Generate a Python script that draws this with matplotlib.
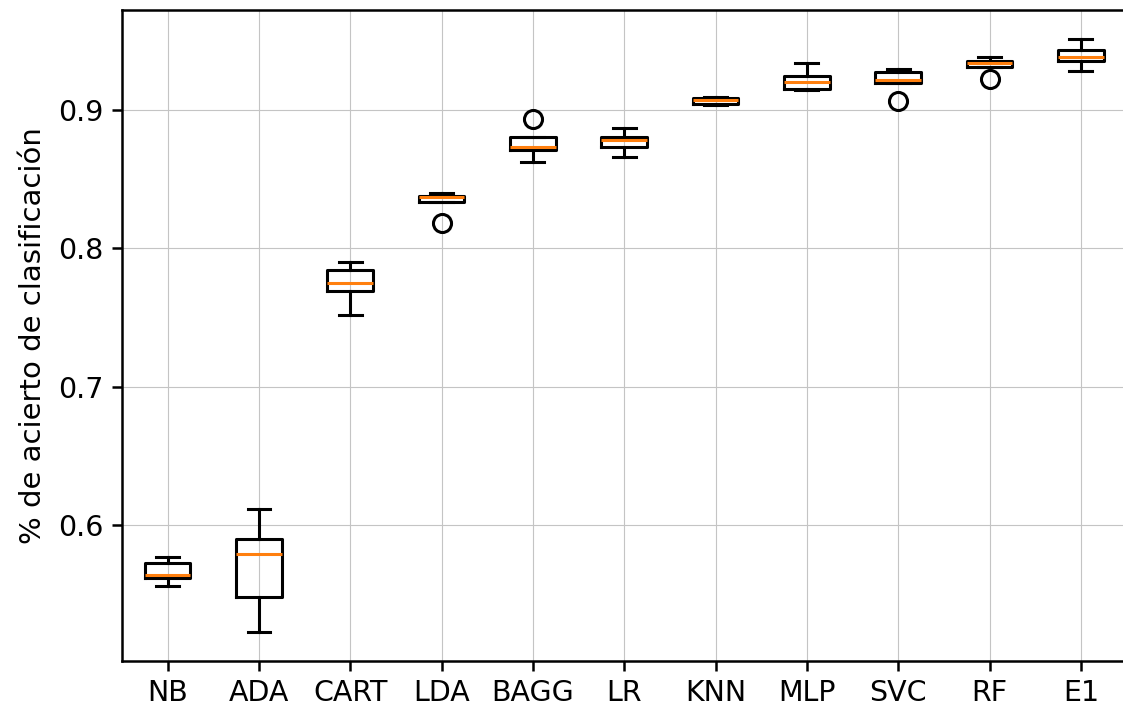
import matplotlib
matplotlib.use("Agg")
import matplotlib.pyplot as plt

# resultados de validacion cruzada por modelo (resumen de cada caja)
modelos = ["NB", "ADA", "CART", "LDA", "BAGG", "LR", "KNN", "MLP", "SVC", "RF", "E1"]
whislo = [0.556, 0.523, 0.752, 0.8335, 0.862, 0.866, 0.9035, 0.9145, 0.9195, 0.931, 0.928]
q1 = [0.562, 0.548, 0.769, 0.8335, 0.871, 0.873, 0.904, 0.915, 0.9195, 0.931, 0.9355]
med = [0.564, 0.579, 0.775, 0.837, 0.873, 0.878, 0.907, 0.920, 0.9215, 0.934, 0.938]
q3 = [0.573, 0.590, 0.784, 0.838, 0.880, 0.8805, 0.9085, 0.924, 0.9275, 0.9355, 0.943]
whishi = [0.577, 0.612, 0.790, 0.840, 0.880, 0.887, 0.909, 0.934, 0.9295, 0.938, 0.951]
fliers = [[], [], [], [0.818], [0.893], [], [], [], [0.9065], [0.922], []]

stats = []
for i in range(len(modelos)):
    stats.append(dict(label=modelos[i], whislo=whislo[i], q1=q1[i], med=med[i],
                      q3=q3[i], whishi=whishi[i], fliers=fliers[i]))

fig = plt.figure(figsize=(11.23, 7.13), dpi=100)
ax = fig.add_axes([0.1086, 0.0729, 0.8945, 0.9131])

lw = 2.2
ax.bxp(stats,
       boxprops=dict(color="black", linewidth=lw),
       whiskerprops=dict(color="black", linewidth=lw),
       capprops=dict(color="black", linewidth=lw),
       medianprops=dict(color="#ff7f0e", linewidth=lw),
       flierprops=dict(marker="o", markerfacecolor="none", markeredgecolor="black",
                       markersize=13, markeredgewidth=lw))

ax.set_ylim(0.502, 0.972)
ax.set_yticks([0.6, 0.7, 0.8, 0.9])
ax.grid(True, color="#c4c4c4", linewidth=0.8)
ax.set_axisbelow(True)
ax.spines["right"].set_visible(False)
for s in ["left", "bottom", "top"]:
    ax.spines[s].set_linewidth(1.8)
ax.tick_params(labelsize=20.5, length=7, width=1.8, pad=6)
ax.set_ylabel("% de acierto de clasificación", fontsize=21, labelpad=8)

plt.savefig("out.png", dpi=100)
